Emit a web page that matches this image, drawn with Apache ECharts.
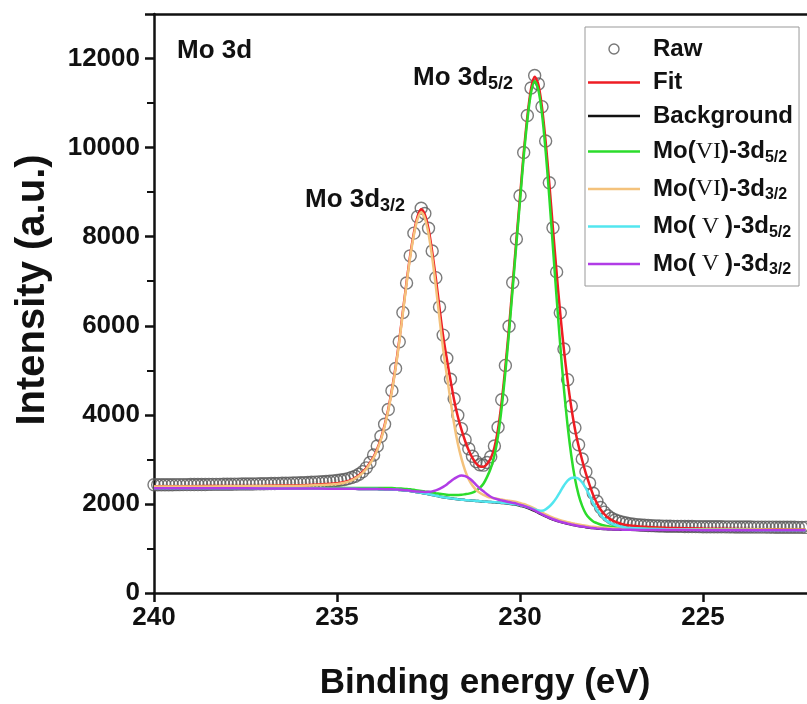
<!DOCTYPE html>
<html>
<head>
<meta charset="utf-8">
<title>Mo 3d XPS</title>
<script src="https://cdn.jsdelivr.net/npm/echarts@6/dist/echarts.min.js"></script>
<style>
  html, body { margin: 0; padding: 0; background: #fff; }
  #chart { width: 807px; height: 704px; }
</style>
</head>
<body>
<div id="chart"></div>
<script>
// Raw spectrum: counts every 0.1 eV from 240.0 eV down to 222.2 eV
const RAW_START_EV = 240.0;
const RAW_STEP_EV = 0.1;
const RAW_COUNTS = [
  2430, 2430, 2431, 2431, 2432, 2432, 2433, 2433, 2434, 2434,
  2435, 2435, 2436, 2437, 2437, 2438, 2439, 2439, 2440, 2441,
  2442, 2443, 2444, 2445, 2446, 2447, 2448, 2449, 2450, 2452,
  2453, 2455, 2457, 2459, 2461, 2463, 2465, 2467, 2470, 2473,
  2476, 2479, 2482, 2486, 2490, 2494, 2499, 2504, 2510, 2517,
  2525, 2536, 2550, 2568, 2592, 2622, 2665, 2725, 2810, 2930,
  3100, 3300, 3520, 3790, 4120, 4540, 5040, 5640, 6300, 6960,
  7570, 8080, 8450, 8640, 8520, 8190, 7680, 7080, 6420, 5790,
  5270, 4800, 4360, 3990, 3690, 3440, 3240, 3070, 2950, 2880,
  2870, 2930, 3060, 3300, 3720, 4340, 5110, 5990, 6970, 7950,
  8920, 9890, 10720, 11340, 11620, 11430, 10920, 10150, 9210, 8200,
  7210, 6290, 5480, 4790, 4200, 3710, 3330, 3010, 2720, 2470,
  2240, 2060, 1920, 1815, 1735, 1680, 1640, 1610, 1588, 1570,
  1556, 1545, 1536, 1528, 1522, 1517, 1512, 1508, 1505, 1502,
  1500, 1498, 1497, 1496, 1495, 1494, 1493, 1492, 1491, 1490,
  1489, 1488, 1488, 1487, 1486, 1486, 1485, 1484, 1484, 1483,
  1482, 1482, 1481, 1481, 1480, 1480, 1479, 1479, 1478, 1478,
  1477, 1477, 1476, 1476, 1475, 1475, 1474, 1474, 1473
];

// Energies (eV) at which the background and fitted components are tabulated
const CURVE_EV = [
  240, 239, 238, 237, 236, 235.5, 235, 234.8, 234.6, 234.4, 234.2,
  234.0, 233.9, 233.8, 233.7, 233.6, 233.5, 233.4, 233.3, 233.2, 233.1,
  233.0, 232.9, 232.8, 232.7, 232.6, 232.5, 232.4, 232.3, 232.2, 232.1,
  232.0, 231.9, 231.8, 231.7, 231.6, 231.5, 231.4, 231.3, 231.2, 231.1,
  231.0, 230.9, 230.8, 230.7, 230.6, 230.5, 230.4, 230.3, 230.2, 230.1,
  230.0, 229.9, 229.8, 229.7, 229.6, 229.5, 229.4, 229.3, 229.2, 229.1,
  229.0, 228.9, 228.8, 228.7, 228.6, 228.5, 228.4, 228.3, 228.2, 228.1,
  228.0, 227.9, 227.8, 227.7, 227.6, 227.5, 227.4, 227.3, 227.2, 227.1,
  227.0, 226.5, 226, 225, 224, 223, 222.2
];

// Shirley-type background
const BACKGROUND = [
  2350, 2350, 2350, 2348, 2346, 2344, 2342, 2341, 2339, 2337, 2336,
  2334, 2333, 2331, 2329, 2327, 2325, 2320, 2314, 2308, 2300,
  2290, 2276, 2262, 2248, 2233, 2218, 2202, 2185, 2168, 2152,
  2138, 2126, 2115, 2105, 2096, 2088, 2081, 2074, 2067, 2060,
  2053, 2047, 2041, 2035, 2029, 2022, 2014, 2005, 1994, 1981,
  1960, 1940, 1912, 1880, 1842, 1800, 1758, 1718, 1682, 1650,
  1622, 1597, 1575, 1555, 1537, 1520, 1504, 1490, 1477, 1466,
  1457, 1450, 1443, 1438, 1433, 1429, 1426, 1423, 1421, 1419,
  1418, 1415, 1413, 1411, 1410, 1408, 1407
];

// Component peak heights above the background
const PEAK_MO6_52 = [
  5, 6, 7, 9, 11, 13, 15, 16, 17, 19, 21,
  23, 24, 25, 27, 28, 30, 31, 33, 34, 36,
  38, 40, 42, 44, 47, 50, 53, 56, 60, 65,
  70, 76, 85, 97, 110, 130, 150, 180, 230, 300,
  400, 560, 760, 1050, 1500, 2150, 2950, 3850, 4850, 5850,
  6850, 7850, 8700, 9350, 9650, 9500, 9000, 8200, 7200, 6100,
  5000, 3950, 3000, 2200, 1550, 1050, 700, 460, 300, 210,
  150, 120, 95, 78, 65, 57, 50, 45, 40, 36,
  33, 25, 20, 14, 10, 8, 6
];
const PEAK_MO6_32 = [
  40, 42, 45, 52, 64, 80, 105, 135, 190, 290, 450,
  700, 880, 1110, 1410, 1770, 2210, 2720, 3320, 3980, 4640,
  5250, 5760, 6130, 6300, 6180, 5850, 5330, 4700, 4000, 3320,
  2750, 2200, 1680, 1250, 920, 660, 470, 340, 250, 190,
  150, 120, 100, 90, 80, 75, 70, 67, 64, 62,
  60, 58, 56, 54, 52, 50, 48, 46, 44, 42,
  40, 38, 37, 36, 35, 34, 33, 32, 31, 30,
  29, 28, 27, 27, 26, 26, 25, 25, 24, 24,
  23, 21, 20, 17, 15, 13, 12
];
const PEAK_MO5_52 = [
  0, 0, 0, 0, 0, 0, 0, 0, 0, 0, 0,
  0, 0, 0, 0, 0, 0, 0, 0, 0, 0,
  0, 0, 0, 0, 0, 0, 0, 0, 0, 0,
  0, 0, 0, 0, 0, 0, 0, 0, 0, 0,
  0, 2, 3, 3, 4, 5, 6, 7, 8, 9,
  10, 12, 15, 22, 35, 55, 90, 160, 260, 380,
  520, 680, 840, 970, 1045, 1075, 1060, 990, 870, 720,
  560, 420, 310, 230, 170, 130, 100, 78, 60, 48,
  40, 20, 10, 4, 2, 1, 0
];
const PEAK_MO5_32 = [
  0, 0, 0, 0, 0, 0, 0, 0, 0, 0, 1,
  2, 2, 3, 3, 3, 4, 4, 5, 5, 6,
  7, 8, 15, 24, 35, 55, 80, 120, 170, 230,
  300, 380, 450, 510, 540, 535, 500, 440, 360, 290,
  230, 170, 120, 90, 70, 57, 45, 37, 30, 25,
  20, 17, 15, 13, 11, 10, 9, 8, 7, 6,
  5, 4, 4, 3, 3, 3, 2, 2, 2, 2,
  2, 1, 1, 1, 1, 1, 1, 1, 1, 1,
  1, 0, 0, 0, 0, 0, 0
];

// Axis tick values and the visible energy window
const X_TICKS = [240, 235, 230, 225];
const Y_TICKS = [0, 2000, 4000, 6000, 8000, 10000, 12000];
const X_MAX = 240;
const X_MIN = 222.16;

const FONT = "'Liberation Sans', Arial, Helvetica, sans-serif";
const SERIF = "'Liberation Serif', 'DejaVu Serif', 'Times New Roman', serif";
const INK = '#111';

const rawPoints = RAW_COUNTS.map((v, i) =>
  [Math.round((RAW_START_EV - RAW_STEP_EV * i) * 10) / 10, v]);

const onBackground = peak => CURVE_EV.map((e, i) => [e, BACKGROUND[i] + peak[i]]);
const fitPoints = CURVE_EV.map((e, i) =>
  [e, BACKGROUND[i] + PEAK_MO6_52[i] + PEAK_MO6_32[i] + PEAK_MO5_52[i] + PEAK_MO5_32[i]]);
const bgPoints = CURVE_EV.map((e, i) => [e, BACKGROUND[i]]);

const legendText = {
  'Raw': '{g| }{t|Raw}',
  'Fit': '{g| }{t|Fit}',
  'Background': '{g| }{t|Background}',
  'Mo(VI)-3d5/2': '{g| }{t|Mo(}{r|VI}{t|)-3d}{s|5/2}',
  'Mo(VI)-3d3/2': '{g| }{t|Mo(}{r|VI}{t|)-3d}{s|3/2}',
  'Mo(V)-3d5/2': '{g| }{t|Mo(}{r| V }{t|)-3d}{s|5/2}',
  'Mo(V)-3d3/2': '{g| }{t|Mo(}{r| V }{t|)-3d}{s|3/2}'
};

// flat bar used as the legend key of each curve
const LINE_KEY = 'path://M0,0H52V2.5H0Z';

const lineSeries = (name, data, color, z) => ({
  name, type: 'line', data, symbol: 'none', smooth: 0.3,
  lineStyle: { color, width: 2.5 }, itemStyle: { color }, z
});

const chart = echarts.init(document.getElementById('chart'));
chart.setOption({
  animation: false,
  backgroundColor: '#fff',
  // the frame is open at the page's right edge
  grid: { left: 154, right: 0, top: 14, bottom: 111 },
  xAxis: [{
    type: 'value', min: X_MIN, max: X_MAX, inverse: true, position: 'bottom',
    axisLine: { show: true, onZero: false, lineStyle: { color: INK, width: 2.5 } },
    axisTick: { show: true, length: 9, customValues: X_TICKS, lineStyle: { color: INK, width: 2.5 } },
    axisLabel: {
      fontSize: 26, fontWeight: 'bold', fontFamily: FONT, color: INK, margin: 12,
      customValues: X_TICKS
    },
    splitLine: { show: false }
  }, {
    type: 'value', min: X_MIN, max: X_MAX, inverse: true, position: 'top',
    axisLine: { show: true, onZero: false, lineStyle: { color: INK, width: 2.5 } },
    axisTick: { show: false }, axisLabel: { show: false }, splitLine: { show: false }
  }],
  yAxis: {
    type: 'value', min: 0, max: 13000, interval: 2000,
    axisLine: { show: true, lineStyle: { color: INK, width: 2.5 } },
    axisTick: { show: true, length: 9, lineStyle: { color: INK, width: 2.5 } },
    minorTick: { show: true, splitNumber: 2, length: 7, lineStyle: { color: INK, width: 2 } },
    axisLabel: {
      fontSize: 26, fontWeight: 'bold', fontFamily: FONT, color: INK, margin: 14,
      showMaxLabel: false,
      formatter: v => (Y_TICKS.indexOf(v) >= 0 ? String(v) : '')
    },
    splitLine: { show: false }
  },
  legend: {
    orient: 'vertical', left: 585, top: 27,
    padding: [10, 6, 8, 3], itemGap: 9.5, itemWidth: 52, itemHeight: 10,
    borderColor: '#999', borderWidth: 1, backgroundColor: '#fff',
    textStyle: {
      fontFamily: FONT, fontWeight: 'bold', fontSize: 24, color: INK,
      rich: {
        g: { width: 8 },
        t: { fontFamily: FONT, fontWeight: 'bold', fontSize: 24, lineHeight: 28, color: INK },
        r: { fontFamily: SERIF, fontWeight: 'normal', fontSize: 24, lineHeight: 28, color: INK },
        s: { fontFamily: FONT, fontWeight: 'bold', fontSize: 16, lineHeight: 16, padding: [12, 0, 0, 0], color: INK }
      }
    },
    formatter: name => legendText[name] || name,
    data: [
      { name: 'Raw', icon: 'circle', itemStyle: { color: 'rgba(0,0,0,0)', borderColor: '#555', borderWidth: 1.4 } },
      { name: 'Fit', icon: LINE_KEY },
      { name: 'Background', icon: LINE_KEY },
      { name: 'Mo(VI)-3d5/2', icon: LINE_KEY },
      { name: 'Mo(VI)-3d3/2', icon: LINE_KEY },
      { name: 'Mo(V)-3d5/2', icon: LINE_KEY },
      { name: 'Mo(V)-3d3/2', icon: LINE_KEY }
    ]
  },
  graphic: [
    {
      type: 'text', x: 177, y: 51, z: 10,
      style: { text: 'Mo 3d', fontFamily: FONT, fontWeight: 'bold', fontSize: 26, fill: INK, verticalAlign: 'middle' }
    },
    {
      type: 'text', x: 413, y: 78, z: 10,
      style: {
        text: '{a|Mo 3d}{s|5/2}', verticalAlign: 'middle',
        rich: {
          a: { fontFamily: FONT, fontWeight: 'bold', fontSize: 26, lineHeight: 30, fill: INK },
          s: { fontFamily: FONT, fontWeight: 'bold', fontSize: 18, lineHeight: 18, padding: [13, 0, 0, 0], fill: INK }
        }
      }
    },
    {
      type: 'text', x: 305, y: 200, z: 10,
      style: {
        text: '{a|Mo 3d}{s|3/2}', verticalAlign: 'middle',
        rich: {
          a: { fontFamily: FONT, fontWeight: 'bold', fontSize: 26, lineHeight: 30, fill: INK },
          s: { fontFamily: FONT, fontWeight: 'bold', fontSize: 18, lineHeight: 18, padding: [13, 0, 0, 0], fill: INK }
        }
      }
    },
    {
      type: 'text', x: 485, y: 683, z: 10,
      style: { text: 'Binding energy (eV)', fontFamily: FONT, fontWeight: 'bold', fontSize: 35, fill: INK, align: 'center', verticalAlign: 'middle' }
    },
    {
      type: 'text', x: 33, y: 290, rotation: Math.PI / 2, z: 10,
      style: { text: 'Intensity (a.u.)', fontFamily: FONT, fontWeight: 'bold', fontSize: 40, fill: INK, align: 'center', verticalAlign: 'middle' }
    }
  ],
  series: [
    {
      name: 'Raw', type: 'scatter', data: rawPoints, symbol: 'circle', symbolSize: 12,
      itemStyle: { color: 'rgba(0,0,0,0)', borderColor: '#5a5a5a', borderWidth: 1.4 }, z: 2
    },
    lineSeries('Background', bgPoints, '#111111', 3),
    lineSeries('Fit', fitPoints, '#ee1d23', 4),
    lineSeries('Mo(VI)-3d5/2', onBackground(PEAK_MO6_52), '#2bdc2b', 5),
    lineSeries('Mo(VI)-3d3/2', onBackground(PEAK_MO6_32), '#f4c27c', 6),
    lineSeries('Mo(V)-3d5/2', onBackground(PEAK_MO5_52), '#52e6ef', 7),
    lineSeries('Mo(V)-3d3/2', onBackground(PEAK_MO5_32), '#b13ce6', 8)
  ]
});
</script>
</body>
</html>
